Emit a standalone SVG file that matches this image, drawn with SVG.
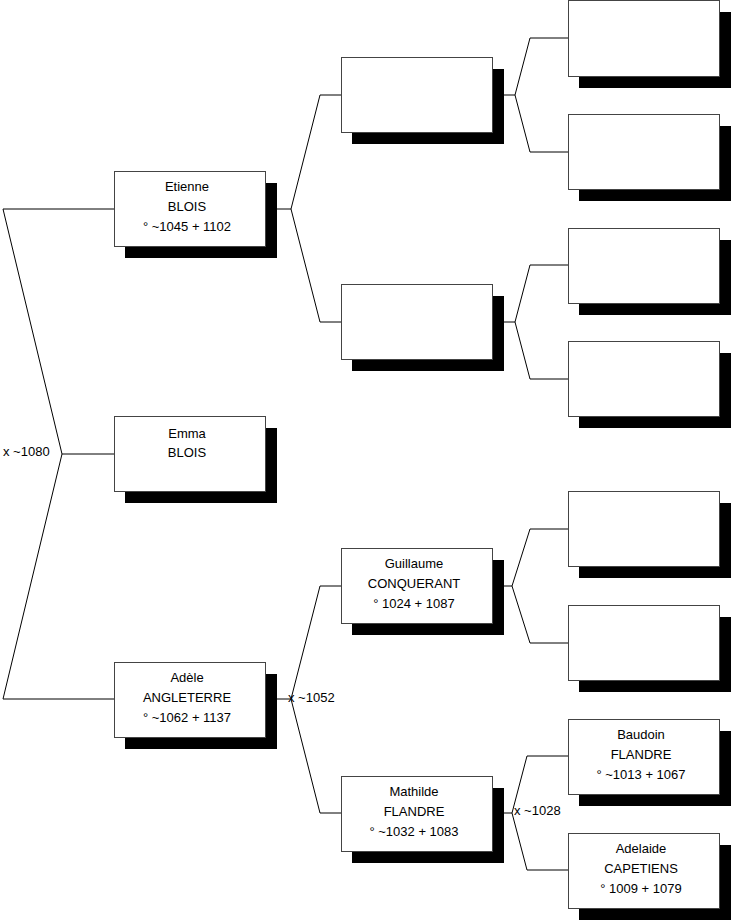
<svg xmlns="http://www.w3.org/2000/svg" width="731" height="920" viewBox="0 0 731 920">
<style>
.sh{fill:#000}
.bx{fill:#fff;stroke:#444;stroke-width:1}
.ln{fill:none;stroke:#000;stroke-width:1}
text{font-family:"Liberation Sans",Arial,sans-serif;font-size:13px;fill:#000}
.c{text-anchor:middle}
</style>
<rect width="731" height="920" fill="#fff"/>
<g id="connectors">
<polyline class="ln" points="114,209 3,209 62,454 3,699 114,699"/>
<line class="ln" x1="62" y1="454" x2="114" y2="454"/>
<polyline class="ln" points="341,95 320,95 291,209 320,322 341,322"/>
<line class="ln" x1="265" y1="209" x2="291" y2="209"/>
<polyline class="ln" points="341,586 320,586 291,699 320,813 341,813"/>
<line class="ln" x1="265" y1="699" x2="291" y2="699"/>
<polyline class="ln" points="568,38 530,38 515,95 530,152 568,152"/>
<line class="ln" x1="492" y1="95" x2="515" y2="95"/>
<polyline class="ln" points="568,265 530,265 515,322 530,379 568,379"/>
<line class="ln" x1="492" y1="322" x2="515" y2="322"/>
<polyline class="ln" points="568,529 530,529 512,586 530,643 568,643"/>
<line class="ln" x1="492" y1="586" x2="512" y2="586"/>
<polyline class="ln" points="568,756 527,756 512,813 527,870 568,870"/>
<line class="ln" x1="492" y1="813" x2="512" y2="813"/>
<text x="3" y="456">x ~1080</text>
<text x="288" y="702">x ~1052</text>
<text x="514" y="815">x ~1028</text>
</g>
<g id="etienne">
<rect class="sh" x="125" y="183" width="152" height="75"/>
<rect class="bx" x="114.5" y="171.5" width="151" height="75"/>
<text class="c" x="187" y="191">Etienne</text>
<text class="c" x="187" y="211">BLOIS</text>
<text class="c" x="187" y="231">° ~1045 + 1102</text>
</g>
<g id="emma">
<rect class="sh" x="125" y="428" width="152" height="75"/>
<rect class="bx" x="114.5" y="416.5" width="151" height="75"/>
<text class="c" x="187" y="438">Emma</text>
<text class="c" x="187" y="457">BLOIS</text>
</g>
<g id="adele">
<rect class="sh" x="125" y="674" width="152" height="75"/>
<rect class="bx" x="114.5" y="662.5" width="151" height="75"/>
<text class="c" x="187" y="682">Adèle</text>
<text class="c" x="187" y="702">ANGLETERRE</text>
<text class="c" x="187" y="722">° ~1062 + 1137</text>
</g>
<g id="p1">
<rect class="sh" x="352" y="69" width="152" height="75"/>
<rect class="bx" x="341.5" y="57.5" width="151" height="75"/>
</g>
<g id="p2">
<rect class="sh" x="352" y="296" width="152" height="75"/>
<rect class="bx" x="341.5" y="284.5" width="151" height="75"/>
</g>
<g id="guillaume">
<rect class="sh" x="352" y="560" width="152" height="75"/>
<rect class="bx" x="341.5" y="548.5" width="151" height="75"/>
<text class="c" x="414" y="568">Guillaume</text>
<text class="c" x="414" y="588">CONQUERANT</text>
<text class="c" x="414" y="608">° 1024 + 1087</text>
</g>
<g id="mathilde">
<rect class="sh" x="352" y="788" width="152" height="75"/>
<rect class="bx" x="341.5" y="776.5" width="151" height="75"/>
<text class="c" x="414" y="796">Mathilde</text>
<text class="c" x="414" y="816">FLANDRE</text>
<text class="c" x="414" y="836">° ~1032 + 1083</text>
</g>
<g id="g1">
<rect class="sh" x="579" y="12" width="152" height="76"/>
<rect class="bx" x="568.5" y="0.5" width="151" height="76"/>
</g>
<g id="g2">
<rect class="sh" x="579" y="126" width="152" height="75"/>
<rect class="bx" x="568.5" y="114.5" width="151" height="75"/>
</g>
<g id="g3">
<rect class="sh" x="579" y="240" width="152" height="75"/>
<rect class="bx" x="568.5" y="228.5" width="151" height="75"/>
</g>
<g id="g4">
<rect class="sh" x="579" y="353" width="152" height="75"/>
<rect class="bx" x="568.5" y="341.5" width="151" height="75"/>
</g>
<g id="g5">
<rect class="sh" x="579" y="503" width="152" height="75"/>
<rect class="bx" x="568.5" y="491.5" width="151" height="75"/>
</g>
<g id="g6">
<rect class="sh" x="579" y="617" width="152" height="75"/>
<rect class="bx" x="568.5" y="605.5" width="151" height="75"/>
</g>
<g id="baudoin">
<rect class="sh" x="579" y="731" width="152" height="75"/>
<rect class="bx" x="568.5" y="719.5" width="151" height="75"/>
<text class="c" x="641" y="739">Baudoin</text>
<text class="c" x="641" y="759">FLANDRE</text>
<text class="c" x="641" y="779">° ~1013 + 1067</text>
</g>
<g id="adelaide">
<rect class="sh" x="579" y="845" width="152" height="75"/>
<rect class="bx" x="568.5" y="833.5" width="151" height="75"/>
<text class="c" x="641" y="853">Adelaide</text>
<text class="c" x="641" y="873">CAPETIENS</text>
<text class="c" x="641" y="893">° 1009 + 1079</text>
</g>
</svg>
